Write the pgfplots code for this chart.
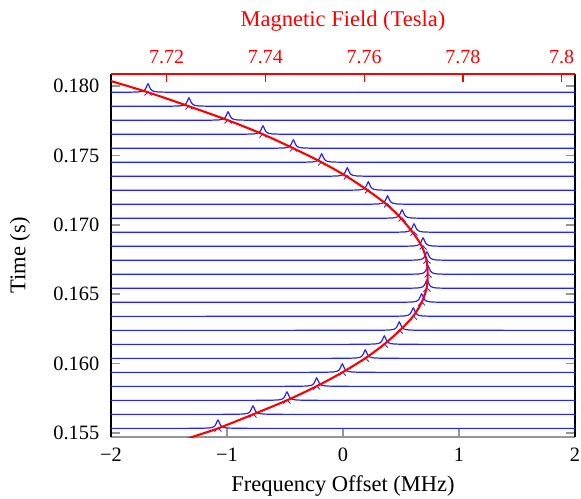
\documentclass[border=0pt]{standalone}
\usepackage{fontspec}
\setmainfont{Liberation Serif}
\usepackage{pgfplots}
\pgfplotsset{compat=1.18}
\usepackage{pgfplotstable}
\definecolor{tracecol}{RGB}{35,35,255}
\definecolor{tickgray}{RGB}{150,150,150}

% Lorentzian line shape (offset in MHz, height in s)
\pgfplotstableread{
df dt
-6 0
-0.3 0.000002
-0.15 0.000008
-0.08 0.000029
-0.05 0.000069
-0.035 0.000125
-0.025 0.000205
-0.015 0.000354
-0.008 0.000501
0 0.00061
0.008 0.000501
0.015 0.000354
0.025 0.000205
0.035 0.000125
0.05 0.000069
0.08 0.000029
0.15 0.000008
0.3 0.000002
6 0
}\shape
\pgfplotstableread{
df dt
-0.03 -0.00023
0 0.00004
0.03 -0.00023
}\legs

\newcommand\trace[2]{%
 \addplot[tracecol, line width=1.2pt] table[x expr=\thisrow{df}+#1, y expr=\thisrow{dt}+#2]{\shape};
 \addplot[tracecol, line width=0.8pt] table[x expr=\thisrow{df}+#1, y expr=\thisrow{dt}+#2]{\legs};}

\begin{document}
\begin{tikzpicture}
\useasboundingbox (-111pt,-61pt) rectangle (470pt,437pt);
\begin{axis}[
 scale only axis, width=464pt, height=363pt,
 xmin=-2, xmax=2, ymin=0.15469, ymax=0.18087,
 separate axis lines,
 x axis line style={tickgray, line width=1.2pt},
 y axis line style={black, line width=1.2pt},
 xtick={-2,-1,0,1,2}, xticklabels={−2,−1,0,1,2},
 ytick={0.155,0.16,0.165,0.17,0.175,0.18},
 yticklabels={0.155,0.160,0.165,0.170,0.175,0.180},
 xtick pos=lower, ytick pos=both,
 tick align=inside,
 major tick length=9pt,
 every tick/.style={tickgray, line width=1.6pt},
 minor tick num=0,
 tick label style={font=\fontsize{20.4}{24}\selectfont},
 xticklabel style={anchor=center, yshift=-18pt},
 yticklabel style={anchor=east, inner sep=0pt, xshift=-11.5pt},
 label style={font=\fontsize{22.5}{27}\selectfont},
 xlabel={Frequency Offset (MHz)},
 xlabel style={at={(axis description cs:0.5,-0.135)}, anchor=center},
 ylabel={Time (s)},
 ylabel style={at={(axis description cs:-0.196,0.5)}, anchor=center},
 scaled y ticks=false,
]
\trace{(-1.681)}{0.17955}
\trace{(-1.328)}{0.17854}
\trace{(-0.991)}{0.17753}
\trace{(-0.690)}{0.17652}
\trace{(-0.428)}{0.17551}
\trace{(-0.184)}{0.17450}
\trace{(0.037)}{0.17349}
\trace{(0.218)}{0.17248}
\trace{(0.384)}{0.17147}
\trace{(0.509)}{0.17046}
\trace{(0.612)}{0.16945}
\trace{(0.690)}{0.16844}
\trace{(0.724)}{0.16743}
\trace{(0.733)}{0.16642}
\trace{(0.724)}{0.16541}
\trace{(0.678)}{0.16440}
\trace{(0.606)}{0.16339}
\trace{(0.485)}{0.16238}
\trace{(0.356)}{0.16137}
\trace{(0.192)}{0.16036}
\trace{(-0.006)}{0.15935}
\trace{(-0.227)}{0.15834}
\trace{(-0.483)}{0.15733}
\trace{(-0.776)}{0.15632}
\trace{(-1.078)}{0.15531}
\addplot[red, line width=2.1pt, smooth] coordinates {
(-2.10,0.18061) (-2.00,0.18036) (-1.681,0.17955) (-1.328,0.17854) (-0.991,0.17753)
(-0.690,0.17652) (-0.428,0.17551) (-0.184,0.17450) (0.030,0.17349) (0.212,0.17248)
(0.375,0.17147) (0.500,0.17046) (0.600,0.16945) (0.680,0.16844) (0.720,0.16743)
(0.730,0.16642) (0.720,0.16541) (0.678,0.16440) (0.604,0.16339) (0.490,0.16238)
(0.354,0.16137) (0.190,0.16036) (-0.006,0.15935) (-0.230,0.15834) (-0.485,0.15733)
(-0.776,0.15632) (-1.078,0.15531) (-1.300,0.15469) (-1.370,0.15445)};
\end{axis}
\begin{axis}[
 scale only axis, width=464pt, height=363pt,
 xmin=7.70872, xmax=7.80269, ymin=0, ymax=1,
 axis x line*=top, hide y axis,
 x axis line style={red, line width=1.2pt},
 xtick={7.72,7.74,7.76,7.78,7.8},
 xticklabels={7.72,7.74,7.76,7.78,7.8},
 tick align=inside, major tick length=8pt,
 every tick/.style={red, line width=1.2pt},
 minor tick num=0,
 xticklabel style={red, font=\fontsize{20}{24}\selectfont, anchor=center, yshift=17pt},
 xlabel={Magnetic Field (Tesla)},
 xlabel style={red, font=\fontsize{22.5}{27}\selectfont, at={(axis description cs:0.5,1.146)}, anchor=center},
]
\end{axis}
\end{tikzpicture}
\end{document}
